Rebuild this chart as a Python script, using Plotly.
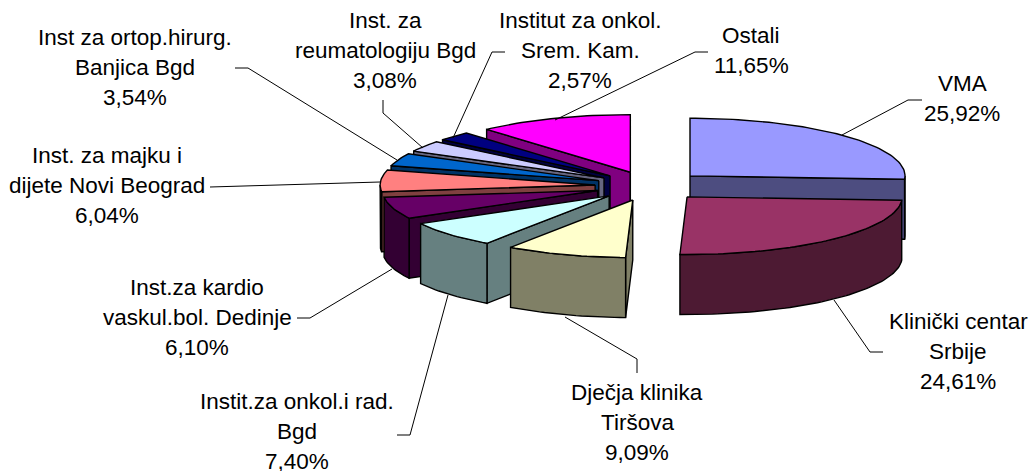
import math
import plotly.graph_objects as go

categories = ["VMA", "Klinički centar Srbije", "Dječja klinika Tiršova", "Instit.za onkol.i rad. Bgd",
              "Inst.za kardio vaskul.bol. Dedinje", "Inst. za majku i dijete Novi Beograd",
              "Inst za ortop.hirurg. Banjica Bgd", "Inst. za reumatologiju Bgd",
              "Institut za onkol. Srem. Kam.", "Ostali"]
values = [25.92, 24.61, 9.09, 7.40, 6.10, 6.04, 3.54, 3.08, 2.57, 11.65]
top_colors = ["#9999FF", "#993366", "#FFFFCC", "#CCFFFF", "#660066", "#FF8080", "#0066CC", "#CCCCFF", "#000080", "#FF00FF"]
side_colors = ["#4D4D80", "#4D1A33", "#808066", "#668080", "#330033", "#804040", "#003366", "#666680", "#000040", "#800080"]
label_lines = [["VMA", "25,92%"], ["Klinički centar", "Srbije", "24,61%"], ["Dječja klinika", "Tiršova", "9,09%"],
               ["Instit.za onkol.i rad.", "Bgd", "7,40%"], ["Inst.za kardio", "vaskul.bol. Dedinje", "6,10%"],
               ["Inst. za majku i", "dijete Novi Beograd", "6,04%"], ["Inst za ortop.hirurg.", "Banjica Bgd", "3,54%"],
               ["Inst. za", "reumatologiju Bgd", "3,08%"], ["Institut za onkol.", "Srem. Kam.", "2,57%"],
               ["Ostali", "11,65%"]]
label_anchor = [(962, 83), (958, 321), (637, 392), (297, 401), (197, 287), (107, 155), (135, 37), (385, 20), (580, 20), (751, 35)]
leaders = [[(922, 100), (908, 100), (842, 135)], [(883, 352), (870, 352), (834, 300)], [(637, 373), (637, 359), (565, 317)],
           [(397, 435), (410, 435), (448, 295)], [(297, 318), (310, 318), (392, 269)], [(210, 187), (380, 182)],
           [(235, 68), (248, 68), (397, 160)], [(383, 100), (383, 113), (423, 148)], [(505, 52), (492, 52), (453, 138)],
           [(708, 52), (695, 52), (555, 120)]]

CX, CY, R, K, DEPTH, EXPLODE = 650, 186, 215, 0.268, 60, 55
FONT = dict(family="Liberation Sans, Arial", size=22.5, color="black")

fig = go.Figure()

def poly(pts, color):
    xs = [p[0] for p in pts] + [pts[0][0]]
    ys = [p[1] for p in pts] + [pts[0][1]]
    fig.add_trace(go.Scatter(x=xs, y=ys, mode="lines", fill="toself", fillcolor=color,
                             line=dict(color="black", width=1.4), hoverinfo="skip", showlegend=False))

total = sum(values)
bounds = []
acc = 0.0
for v in values:
    bounds.append((acc / total * 2 * math.pi, (acc + v) / total * 2 * math.pi))
    acc += v

def point(apex, th, r=R, dz=0):
    return (apex[0] + r * math.sin(th), apex[1] - r * K * math.cos(th) + dz)

def arc(apex, a, b, dz=0):
    n = max(2, int(abs(b - a) * 40))
    return [point(apex, a + (b - a) * i / n, dz=dz) for i in range(n + 1)]

order = [9, 8, 7, 6, 5, 4, 3, 2, 0, 1]
for i in order:
    a, b = bounds[i]
    m = (a + b) / 2
    apex = (CX + EXPLODE * math.sin(m), CY - EXPLODE * K * math.cos(m))
    low = (apex[0], apex[1] + DEPTH)
    if math.sin(a) < 0:
        pa = point(apex, a)
        poly([apex, pa, (pa[0], pa[1] + DEPTH), low], side_colors[i])
    if math.sin(b) > 0:
        pb = point(apex, b)
        poly([apex, pb, (pb[0], pb[1] + DEPTH), low], side_colors[i])
    wa, wb = max(a, math.pi / 2), min(b, 3 * math.pi / 2)
    if wa < wb:
        poly(arc(apex, wa, wb) + arc(apex, wb, wa, DEPTH), side_colors[i])
    poly([apex] + arc(apex, a, b), top_colors[i])

for seg in leaders:
    fig.add_trace(go.Scatter(x=[p[0] for p in seg], y=[p[1] for p in seg], mode="lines",
                             line=dict(color="black", width=1), hoverinfo="skip", showlegend=False))

for lines, (x, y) in zip(label_lines, label_anchor):
    for j, t in enumerate(lines):
        fig.add_annotation(x=x, y=y + j * 30.2, text=t, showarrow=False, font=FONT, xanchor="center", yanchor="middle")

fig.update_layout(width=1032, height=471, margin=dict(l=0, r=0, t=0, b=0), paper_bgcolor="white", plot_bgcolor="white",
                  xaxis=dict(range=[0, 1032], visible=False, fixedrange=True),
                  yaxis=dict(range=[471, 0], visible=False, fixedrange=True), showlegend=False)
fig.write_html("out.html", config=dict(displayModeBar=False),
               post_script="document.body.style.margin='0';document.documentElement.style.overflow='hidden';")
